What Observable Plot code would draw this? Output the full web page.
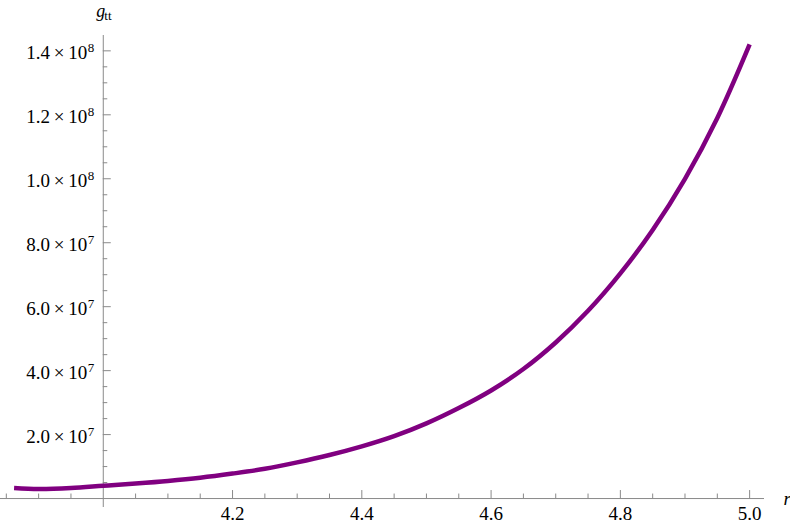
<!DOCTYPE html>
<html>
<head>
<meta charset="utf-8">
<script src="https://cdn.jsdelivr.net/npm/d3@7"></script>
<script src="https://cdn.jsdelivr.net/npm/@observablehq/plot@0.6"></script>
<style>
  html, body { margin: 0; padding: 0; background: #fff; overflow: hidden; }
  #chart svg { display: block; }
  #chart svg, #chart svg text { font-family: "Liberation Serif", "Times New Roman", Times, "DejaVu Serif", serif !important; }
</style>
</head>
<body>
<div id="chart"></div>
<script>
// Curve samples
const rValues = [3.862, 3.9, 3.95, 4.0, 4.05, 4.1, 4.15, 4.2, 4.25, 4.3, 4.35, 4.4, 4.45, 4.5, 4.55, 4.6, 4.65, 4.7, 4.75, 4.8, 4.85, 4.9, 4.95, 5.0];
const gttValues = [3.3e6, 3.0e6, 3.3e6, 4.0e6, 4.7e6, 5.5e6, 6.5e6, 7.8e6, 9.3e6, 1.13e7, 1.36e7, 1.63e7, 1.95e7, 2.35e7, 2.83e7, 3.38e7, 4.05e7, 4.88e7, 5.87e7, 7.04e7, 8.4e7, 1.0e8, 1.19e8, 1.42e8];

// Axis ticks and labels
const xMajorTicks = [4.2, 4.4, 4.6, 4.8, 5.0];
const xTickLabels = ["4.2", "4.4", "4.6", "4.8", "5.0"];
const yMajorTicks = [2e7, 4e7, 6e7, 8e7, 1e8, 1.2e8, 1.4e8];
const yTickMantissas = ["2.0", "4.0", "6.0", "8.0", "1.0", "1.2", "1.4"];
const yTickExponents = ["7", "7", "7", "7", "8", "8", "8"];
const xAxisLabel = "r";
const yAxisLabelMain = "g";
const yAxisLabelSub = "tt";

const W = 790, H = 524;
const mL = 0, mR = 26, mT = 35, mB = 17;
const xDomain = [3.841, 5.023];
const yDomain = [-2.8e6, 1.448e8];
const xOrigin = 4.0;

const xPerPx = (xDomain[1] - xDomain[0]) / (W - mL - mR);
const yPerPx = (yDomain[1] - yDomain[0]) / (H - mT - mB);

const curve = rValues.map((r, i) => ({r, g: gttValues[i]}));

const xMinorTicks = d3.range(3.85, 5.001, 0.05).map(v => +v.toFixed(2))
  .filter(v => Math.abs(v - xOrigin) > 1e-6 && !xMajorTicks.some(t => Math.abs(t - v) < 1e-6));
const yMinorTicks = d3.range(5e6, 1.4e8, 5e6)
  .filter(v => !yMajorTicks.some(t => Math.abs(t - v) < 1));

const xTickData = xMajorTicks.map((v, i) => ({v, label: xTickLabels[i]}));
const yTickData = yMajorTicks.map((v, i) => ({v, m: yTickMantissas[i] + "\u2009×\u200910", e: yTickExponents[i]}));

const axisColor = "#8a8a8a";
const font = "'Liberation Serif', 'Times New Roman', Times, 'DejaVu Serif', serif";

const chart = Plot.plot({
  width: W,
  height: H,
  marginLeft: mL,
  marginRight: mR,
  marginTop: mT,
  marginBottom: mB,
  style: {background: "#fff", color: "#000"},
  x: {domain: xDomain, axis: null},
  y: {domain: yDomain, axis: null},
  marks: [
    Plot.ruleY([0], {stroke: axisColor, strokeWidth: 1}),
    Plot.ruleX([xOrigin], {stroke: axisColor, strokeWidth: 1}),
    Plot.ruleX(xMajorTicks, {x: d => d, y1: 0, y2: 8 * yPerPx, stroke: axisColor}),
    Plot.ruleX(xMinorTicks, {x: d => d, y1: 0, y2: 4.5 * yPerPx, stroke: axisColor}),
    Plot.ruleY(yMajorTicks, {y: d => d, x1: xOrigin, x2: xOrigin + 8 * xPerPx, stroke: axisColor}),
    Plot.ruleY(yMinorTicks, {y: d => d, x1: xOrigin, x2: xOrigin + 4.5 * xPerPx, stroke: axisColor}),
    Plot.text(xTickData, {x: "v", y: 0, text: "label", dy: 15, lineAnchor: "middle", textAnchor: "middle", fontSize: 19, fontFamily: font, fill: "#000"}),
    Plot.text(yTickData, {x: xOrigin, y: "v", text: "m", dx: -16, dy: 2, lineAnchor: "middle", textAnchor: "end", fontSize: 19, fontFamily: font, fill: "#000"}),
    Plot.text(yTickData, {x: xOrigin, y: "v", text: "e", dx: -9, dy: -3, lineAnchor: "middle", textAnchor: "end", fontSize: 13, fontFamily: font, fill: "#000"}),
    Plot.line(curve, {x: "r", y: "g", stroke: "#800080", strokeWidth: 4.5, curve: "catmull-rom", strokeLinecap: "butt"}),
    Plot.text([xAxisLabel], {x: xDomain[1], y: 0, text: d => d, dx: 19, dy: 0, lineAnchor: "middle", textAnchor: "start", fontSize: 19, fontStyle: "italic", fontFamily: font, fill: "#000"}),
    Plot.text([yAxisLabelMain], {x: xOrigin, y: yDomain[1], text: d => d, dx: -7, dy: -19, lineAnchor: "bottom", textAnchor: "start", fontSize: 18, fontStyle: "italic", fontFamily: font, fill: "#000"}),
    Plot.text([yAxisLabelSub], {x: xOrigin, y: yDomain[1], text: d => d, dx: 1, dy: -16, lineAnchor: "bottom", textAnchor: "start", fontSize: 13, fontFamily: font, fill: "#000"})
  ]
});
document.getElementById("chart").appendChild(chart);
</script>
</body>
</html>
